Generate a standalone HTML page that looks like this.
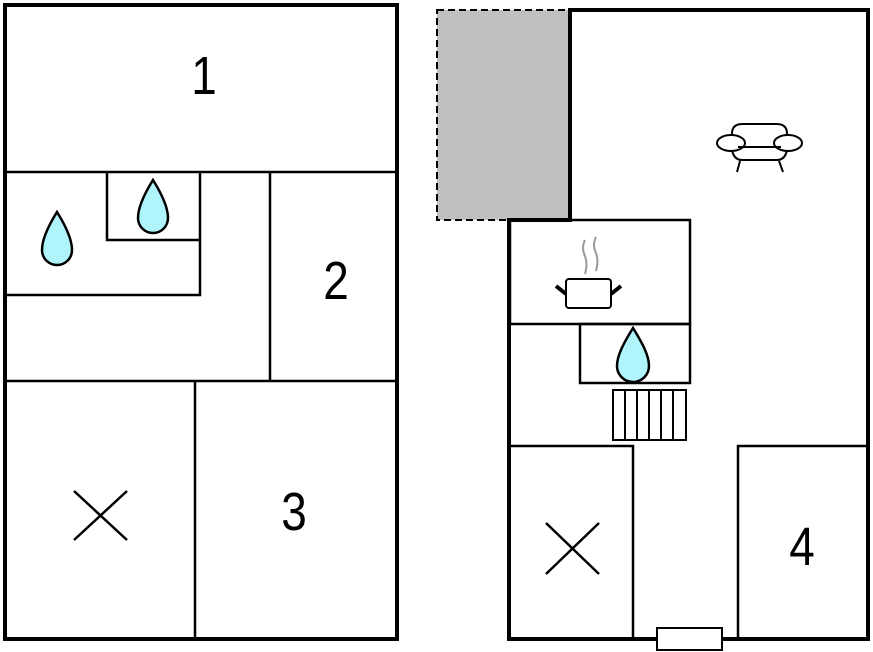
<!DOCTYPE html>
<html><head><style>body{margin:0;background:#fff}svg{display:block}</style></head><body>
<svg width="873" height="652" viewBox="0 0 873 652" xmlns="http://www.w3.org/2000/svg">
<g fill="none" stroke="#000">
<rect x="5" y="5" width="392" height="634" stroke-width="4"/>
<g stroke-width="2.5">
<line x1="5" y1="172" x2="397" y2="172"/>
<polyline points="107,172 107,240 200,240"/>
<polyline points="5,295 200,295 200,172"/>
<line x1="270" y1="172" x2="270" y2="381"/>
<line x1="5" y1="381" x2="397" y2="381"/>
<line x1="195" y1="381" x2="195" y2="639"/>
<line x1="74" y1="491" x2="127" y2="540"/><line x1="127" y1="491" x2="74" y2="540"/>
</g>
<rect x="437" y="10" width="133" height="210" fill="#c0c0c0" stroke-width="2" stroke-dasharray="7,4"/>
<polygon points="570,10 868,10 868,639 509,639 509,220 570,220" stroke-width="4"/>
<g stroke-width="2.5">
<rect x="510" y="220" width="180" height="104"/>
<rect x="580" y="324" width="110" height="59"/>
<rect x="613" y="390" width="73" height="50" stroke-width="2"/>
<g stroke-width="2"><line x1="625" y1="390" x2="625" y2="440"/><line x1="637" y1="390" x2="637" y2="440"/><line x1="649" y1="390" x2="649" y2="440"/><line x1="661" y1="390" x2="661" y2="440"/><line x1="673" y1="390" x2="673" y2="440"/></g>
<polyline points="509,446 633,446 633,639"/>
<polyline points="868,446 738,446 738,639"/>
<line x1="546" y1="523" x2="599" y2="574"/><line x1="599" y1="523" x2="546" y2="574"/>
</g>
<rect x="657" y="628" width="65" height="22" fill="#fff" stroke-width="2"/>
<g stroke-width="2">
<path d="M732,148 v-14 q0,-10 10,-10 h35 q10,0 10,10 v14"/>
<ellipse cx="731" cy="143" rx="14" ry="8" fill="#fff"/><ellipse cx="788" cy="143" rx="14" ry="8" fill="#fff"/>
<line x1="738" y1="147" x2="781" y2="147"/>
<path d="M732,150 q2,10 10,10 h35 q8,0 10,-10"/>
<line x1="740" y1="161" x2="737" y2="172"/><line x1="779" y1="161" x2="783" y2="172"/>
<rect x="566" y="279" width="45" height="29" rx="3"/>
</g>
<g stroke-width="4"><line x1="556" y1="286" x2="566" y2="294"/><line x1="621" y1="286" x2="611" y2="294"/></g>
<g stroke="#999" stroke-width="2"><path d="M585,240 q-4,8 0,16 q3,8 0,18"/><path d="M596,237 q-4,8 0,16 q3,8 0,18"/></g>
<g fill="#aff5fb" stroke-width="2.5">
<path d="M57,212 C47,228 42,240 42,250 A15,15 0 0 0 72,250 C72,240 67,228 57,212Z"/>
<path d="M153,180 C143,196 138,208 138,218 A15,15 0 0 0 168,218 C168,208 163,196 153,180Z"/>
<path d="M633,328 C623,344 617,356 617,366 A16,16 0 0 0 649,366 C649,356 643,344 633,328Z"/>
</g>
</g>
<g font-family="Liberation Sans, sans-serif" font-size="54" text-anchor="middle" fill="#000">
<text transform="translate(204,94) scale(0.85,1)">1</text>
<text transform="translate(336,299) scale(0.85,1)">2</text>
<text transform="translate(294,530) scale(0.85,1)">3</text>
<text transform="translate(802,565) scale(0.85,1)">4</text>
</g>
</svg>
</body></html>
